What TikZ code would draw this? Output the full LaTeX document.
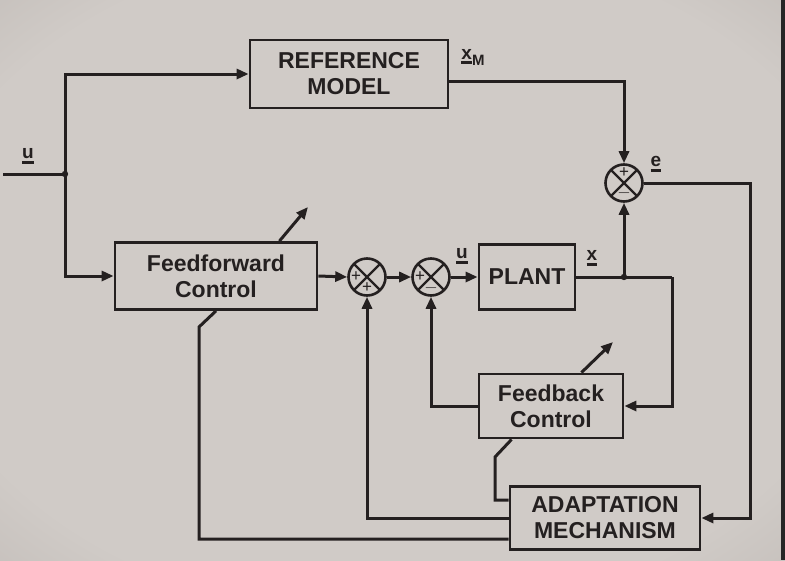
\documentclass[tikz,border=0pt]{standalone}
\usepackage{fontspec}
\setmainfont{Liberation Sans}
\usetikzlibrary{arrows.meta,calc}
\definecolor{ink}{RGB}{36,32,32}
\definecolor{paperc}{RGB}{208,203,199}
\definecolor{papere}{RGB}{145,137,132}
\pgfdeclareradialshading{paper}{\pgfpoint{0bp}{0bp}}{color(0bp)=(paperc); color(30bp)=(paperc); color(72bp)=(papere)}
\newcommand\ulb[1]{\setbox0\hbox{#1}\rlap{\rule[-5pt]{\wd0}{2.6pt}}\box0}
\begin{document}
\begin{tikzpicture}[x=1pt,y=-1pt,
  blk/.style={draw=ink, line width=2.8pt, rectangle, inner sep=0pt, font=\fontsize{23}{26}\selectfont\bfseries, text=ink, align=center},
  sumj/.style={draw=ink, line width=2.6pt, circle, minimum size=37pt, inner sep=0pt,
    path picture={\draw[ink,line width=2.2pt] (path picture bounding box.north west) -- (path picture bounding box.south east) (path picture bounding box.north east) -- (path picture bounding box.south west);}},
  line/.style={draw=ink, line width=3pt},
  arr/.style={line, -{Triangle[length=12pt,width=10pt]}},
  lab/.style={font=\fontsize{19}{20}\selectfont\bfseries, text=ink, inner sep=1pt},
  sgn/.style={font=\fontsize{17}{17}\selectfont, text=ink, inner sep=0pt}]
\useasboundingbox (0,0) rectangle (785,560);
\shade[shading=paper] (0,0) rectangle (785,560);
\fill[black!85] (781,0) rectangle (785,560);

% blocks
\node[blk, minimum width=198pt, minimum height=68pt] (ref) at (349,74) {REFERENCE\\MODEL};
\node[blk, minimum width=202pt, minimum height=67pt] (ff) at (216,276) {Feedforward\\Control};
\node[blk, minimum width=96pt, minimum height=65pt] (plant) at (527,277) {PLANT};
\node[blk, minimum width=144pt, minimum height=64pt] (fb) at (551,406) {Feedback\\Control};
\node[blk, minimum width=190pt, minimum height=63pt] (adapt) at (605,518) {ADAPTATION\\MECHANISM};

% summing junctions
\node[sumj] (s1) at (367,277) {};
\node[sumj] (s2) at (431,277) {};
\node[sumj] (se) at (624,183) {};
\node[sgn] (s1a) at ($(s1)+(-11,0)$) {+};
\node[sgn] (s1b) at ($(s1)+(0,11)$) {+};
\node[sgn] (s2a) at ($(s2)+(-11,0)$) {+};
\node[sgn] (s2b) at ($(s2)+(0,11)$) {$-$};
\node[sgn] (sea) at ($(se)+(0,-10)$) {+};
\node[sgn] (seb) at ($(se)+(0,10)$) {$-$};

% coordinates
\coordinate (uin) at (3,174);
\coordinate (j1) at (65,174);
\coordinate (jx) at (se |- plant.east);
\coordinate (xr) at (672,277);
\coordinate (er) at (750,183);
\coordinate (fbb) at ($(fb.south west)+(34,0)$);
\coordinate (fbk) at (495,457);
\coordinate (ffk) at (199,327);
\coordinate (ffad) at (308,207);
\coordinate (fbad) at (613,342);

% connectors
\draw[line] (uin) -- (j1);
\draw[arr] (j1) |- (ref.west);
\draw[arr] (j1) |- (ff.west);
\fill[ink] (j1) circle (3.2pt);
\draw[arr] (ff.east) -- (s1.west);
\draw[arr] (s1.east) -- (s2.west);
\draw[arr] (s2.east) -- (plant.west);
\draw[line] (plant.east) -- (xr);
\draw[arr] (jx) -- (se.south);
\fill[ink] (jx) circle (3.2pt);
\draw[arr] (xr) |- (fb.east);
\draw[arr] ($(ref.east)+(0,7)$) -| (se.north);
\draw[arr] (se.east) -- (er) |- (adapt.east);
\draw[arr] (fb.west) -| (s2.south);
\draw[arr] (adapt.west) -| (s1.south);
\draw[line] ($(adapt.west)+(0,21)$) -| (ffk) -- (ff.south);
\draw[line] (fbb) -- (fbk) |- ($(adapt.north west)+(0,15)$);
\draw[arr] ($(ff.north east)+(-39,0)$) -- (ffad);
\draw[arr] ($(fb.north east)+(-43,0)$) -- (fbad);

% labels
\node[lab] (lu) at (28,156) {\ulb{u}};
\node[lab] (lxm) at (473,57) {\ulb{x}\raisebox{-6pt}{\fontsize{15}{15}\selectfont M}};
\node[lab] (le) at (656,164) {\ulb{e}};
\node[lab] (lu2) at (462,256) {\ulb{u}};
\node[lab] (lx) at (592,258) {\ulb{x}};
\end{tikzpicture}
\end{document}
